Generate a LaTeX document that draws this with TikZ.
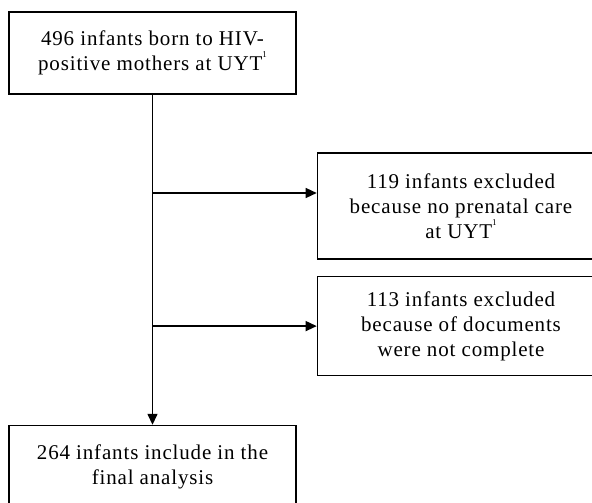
\documentclass[tikz,border=0pt]{standalone}
\usepackage{fontspec}
\setmainfont{Liberation Serif}[LetterSpace=4]
\usepackage{tikz}
\usetikzlibrary{arrows.meta,positioning}
\newcommand{\fnmark}{\raisebox{0.62em}{\fontsize{9}{9}\selectfont 1}}

\begin{document}
\begin{tikzpicture}[
    x=1pt,y=1pt,
    node distance=16pt,
    box/.style={rectangle,draw=black,line width=1.6pt,align=center,
      minimum width=287pt,inner sep=0pt,font=\fontsize{21}{25}\selectfont},
    arrow/.style={-{Triangle[length=11pt,width=10pt]},line width=1.4pt,draw=black}
  ]
    \useasboundingbox (0,0) rectangle (592,-503);
    \node[box,minimum height=82pt] (born) at (152.5,-53)
      {496 infants born to HIV-\\positive mothers at UYT\fnmark};
    \node[box,minimum height=82pt,below=330pt of born] (final)
      {264 infants include in the\\final analysis};
    \node[box,minimum height=106pt] (noprenatal) at (461,-206)
      {119 infants excluded\\because no prenatal care\\at UYT\fnmark};
    \node[box,minimum height=99pt,below=of noprenatal] (incomplete)
      {113 infants excluded\\because of documents\\were not complete};
    \coordinate (split) at (152.5,-193);
    \draw[arrow] (born) -- (final);
    \draw[arrow] (split) -- (split -| noprenatal.west);
    \draw[arrow] (born.south |- incomplete.west) -- (incomplete.west);
\end{tikzpicture}
\end{document}
